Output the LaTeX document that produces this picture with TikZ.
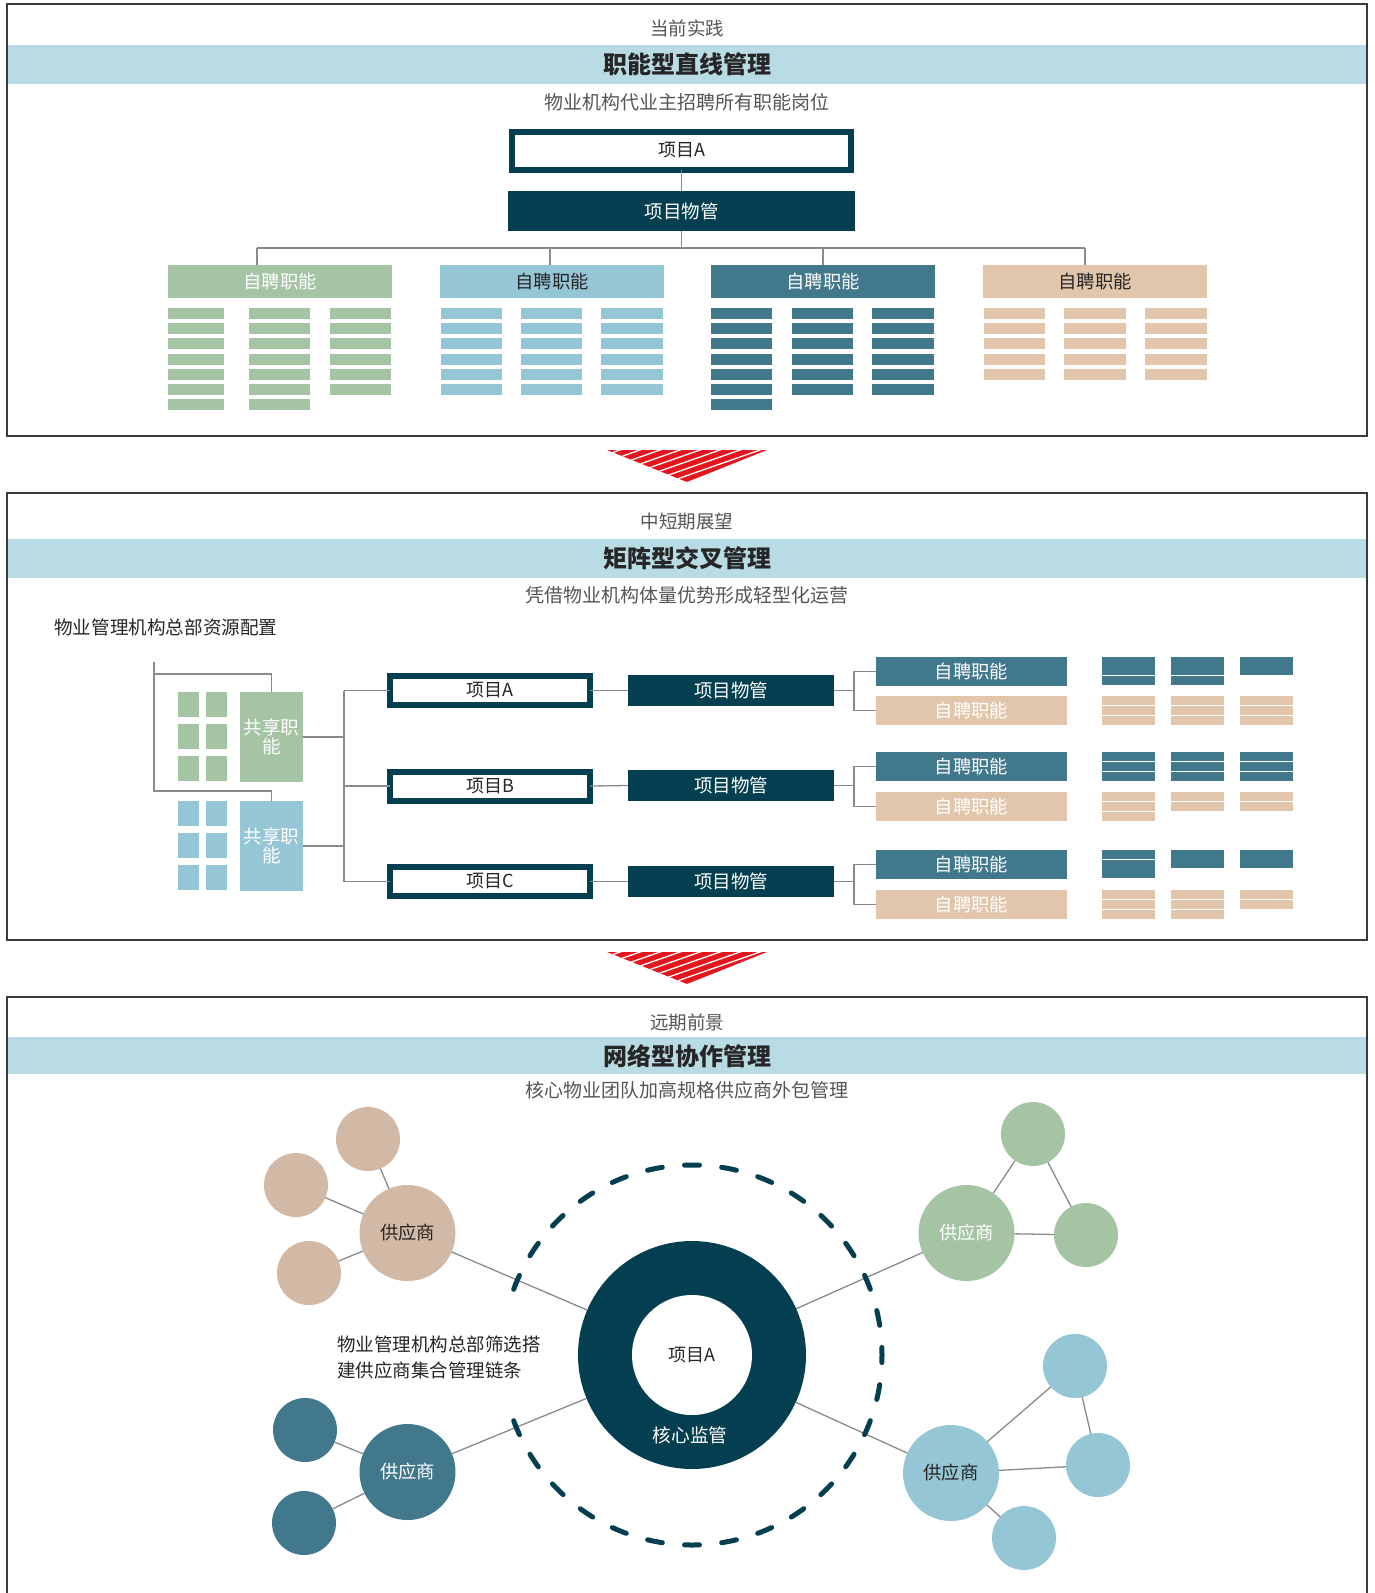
\documentclass[tikz,border=0pt]{standalone}
\usepackage{fontspec}
\setmainfont{Noto Sans CJK SC}
\definecolor{cNavy}{HTML}{033F50}
\definecolor{cTeal}{HTML}{41788C}
\definecolor{cSky}{HTML}{95C6D5}
\definecolor{cSage}{HTML}{A5C4A4}
\definecolor{cSand}{HTML}{E1C6AC}
\definecolor{cClay}{HTML}{D2B9A5}
\definecolor{cBand}{HTML}{B9DCE4}
\definecolor{cLine}{HTML}{8A8A8A}
\definecolor{cInk}{HTML}{262626}
\definecolor{cGray}{HTML}{555555}
\definecolor{cRed}{HTML}{E5151E}
\definecolor{cFrame}{HTML}{3A3A3A}
\newcommand{\fsz}[1]{\fontsize{#1}{#1}\selectfont}
\begin{document}
\begin{tikzpicture}[x=1pt,y=-1pt,
  panel/.style={draw=cFrame,line width=1.5},
  kicker/.style={inner sep=0,text=cGray,font=\fsz{18.5}},
  headline/.style={inner sep=0,text=cInk,font=\fsz{24}\bfseries},
  subline/.style={inner sep=0,text=cGray,font=\fsz{19}},
  conn/.style={draw=cLine,line width=1.3},
  projbox/.style={draw=cNavy,line width=6,fill=white,text=cInk,inner sep=0,outer sep=0,font=\fsz{18}},
  mgrbox/.style={fill=cNavy,text=white,inner sep=0,outer sep=0,font=\fsz{18.5}},
  fnbox/.style={inner sep=0,outer sep=0,font=\fsz{18.3}},
  sharebox/.style={inner sep=0,outer sep=0,minimum width=63,minimum height=90,text=white,align=center,font=\fontsize{18.5}{19}\selectfont},
  bigdot/.style={circle,inner sep=0,outer sep=0,minimum size=96,font=\fsz{18.3}},
  smalldot/.style={circle,inner sep=0,outer sep=0,minimum size=64},
  hatcharrow/.style={white,line width=1.3}]
\useasboundingbox (0,0) rectangle (1375,1593);
\fill[white] (0,0) rectangle (1375,1593);

% ---------------- panel 1: functional line management ----------------
\draw[panel] (7,4) rectangle (1367,436);
\fill[cBand] (7.75,45) rectangle (1366.25,84);
\node[kicker] (k1) at (687,28) {当前实践};
\node[headline] (h1) at (687,64) {职能型直线管理};
\node[subline] (s1) at (687,102) {物业机构代业主招聘所有职能岗位};

\node[projbox,minimum width=339,minimum height=38] (topA) at (681.5,150.5) {项目A};
\node[mgrbox,minimum width=347,minimum height=40] (topM) at (681.5,211) {项目物管};

\node[fnbox,fill=cSage,text=white,minimum width=224,minimum height=33] (f1) at (280,281.5) {自聘职能};
\node[fnbox,fill=cSky,text=cInk,minimum width=224,minimum height=33] (f2) at (552,281.5) {自聘职能};
\node[fnbox,fill=cTeal,text=white,minimum width=224,minimum height=33] (f3) at (823,281.5) {自聘职能};
\node[fnbox,fill=cSand,text=cInk,minimum width=224,minimum height=33] (f4) at (1095,281.5) {自聘职能};

\coordinate (hub) at (681.5,248);
\coordinate (d1) at (257,248);
\coordinate (d2) at (550,248);
\coordinate (d3) at (823,248);
\coordinate (d4) at (1085,248);
\draw[conn] (topA.south) -- (topM.north);
\draw[conn] (topM.south) -- (hub);
\draw[conn] (d1) -- (d4);
\draw[conn] (d1) -- (d1 |- f1.north);
\draw[conn] (d2) -- (d2 |- f2.north);
\draw[conn] (d3) -- (d3 |- f3.north);
\draw[conn] (d4) -- (d4 |- f4.north);

% position bars under each function header
\foreach \x/\w/\n in {168/56/7, 249/61/7, 330/61/6}
  \foreach \i in {1,...,\n} \fill[cSage] (\x,{308+15.17*(\i-1)}) rectangle ++(\w,11);
\foreach \x/\w/\n in {441/61/6, 521/61/6, 601/62/6}
  \foreach \i in {1,...,\n} \fill[cSky] (\x,{308+15.17*(\i-1)}) rectangle ++(\w,11);
\foreach \x/\w/\n in {711/61/7, 792/61/6, 872/62/6}
  \foreach \i in {1,...,\n} \fill[cTeal] (\x,{308+15.17*(\i-1)}) rectangle ++(\w,11);
\foreach \x/\w/\n in {984/61/5, 1064/62/5, 1145/62/5}
  \foreach \i in {1,...,\n} \fill[cSand] (\x,{308+15.17*(\i-1)}) rectangle ++(\w,11);

% hatched arrow 1
\begin{scope}
  \clip (607,450) -- (767,450) -- (687,482) -- cycle;
  \fill[cRed] (600,440) rectangle (775,490);
  \foreach \k in {-2,...,14} \draw[hatcharrow] (600,{450+\k*7}) -- ++(180,-63);
\end{scope}

% ---------------- panel 2: matrix management ----------------
\draw[panel] (7,493) rectangle (1367,940);
\fill[cBand] (7.75,539) rectangle (1366.25,578);
\node[kicker] (k2) at (687,522) {中短期展望};
\node[headline] (h2) at (687,558) {矩阵型交叉管理};
\node[subline] (s2) at (687,595) {凭借物业机构体量优势形成轻型化运营};
\node[inner sep=0,anchor=west,text=cInk,font=\fsz{18.6}] (hq) at (54,627) {物业管理机构总部资源配置};

% shared function pools
\foreach \x in {178,206} \foreach \y in {692,724,756} \fill[cSage] (\x,\y) rectangle ++(21,25);
\foreach \x in {178,206} \foreach \y in {801,833,865} \fill[cSky] (\x,\y) rectangle ++(21,25);
\node[sharebox,fill=cSage] (sh1) at (271.5,737) {共享职\\能};
\node[sharebox,fill=cSky] (sh2) at (271.5,846) {共享职\\能};

\coordinate (bk0) at (154,662);
\coordinate (bk1) at (154,674);
\coordinate (bk2) at (154,791);
\draw[conn] (bk0) -- (bk2) -| (sh2.north);
\draw[conn] (bk1) -| (sh1.north);

% projects
\node[projbox,minimum width=200,minimum height=29] (pa) at (490,690.5) {项目A};
\node[projbox,minimum width=200,minimum height=29] (pb) at (490,786) {项目B};
\node[projbox,minimum width=200,minimum height=29] (pc) at (490,881.5) {项目C};
\node[mgrbox,minimum width=206,minimum height=31] (ma) at (731,690.5) {项目物管};
\node[mgrbox,minimum width=206,minimum height=31] (mb) at (731,785.5) {项目物管};
\node[mgrbox,minimum width=206,minimum height=31] (mc) at (731,881.5) {项目物管};

\coordinate (bus1) at (344,690.5);
\coordinate (bus3) at (344,881.5);
\draw[conn] (bus1) -- (bus3);
\draw[conn] (sh1.east) -- (sh1.east -| bus1);
\draw[conn] (sh2.east) -- (sh2.east -| bus1);
\draw[conn] (bus1) -- (pa.west);
\draw[conn] (pb.west -| bus1) -- (pb.west);
\draw[conn] (bus3) -- (pc.west);
\draw[conn] (pa.east) -- (ma.west);
\draw[conn] (pb.east) -- (mb.west);
\draw[conn] (pc.east) -- (mc.west);

% self-hired functions per project
\node[fnbox,fill=cTeal,text=white,minimum width=191,minimum height=29] (ta) at (971.5,671.5) {自聘职能};
\node[fnbox,fill=cSand,text=white,minimum width=191,minimum height=29] (sa) at (971.5,710.5) {自聘职能};
\node[fnbox,fill=cTeal,text=white,minimum width=191,minimum height=29] (tb) at (971.5,766.5) {自聘职能};
\node[fnbox,fill=cSand,text=white,minimum width=191,minimum height=29] (sb) at (971.5,806.5) {自聘职能};
\node[fnbox,fill=cTeal,text=white,minimum width=191,minimum height=29] (tc) at (971.5,864.5) {自聘职能};
\node[fnbox,fill=cSand,text=white,minimum width=191,minimum height=29] (sc) at (971.5,904.5) {自聘职能};

\coordinate (ja) at (854,690.5);
\coordinate (jb) at (854,785.5);
\coordinate (jc) at (854,881.5);
\draw[conn] (ma.east) -- (ja);
\draw[conn] (ta.west) -| (ja);
\draw[conn] (sa.west) -| (ja);
\draw[conn] (mb.east) -- (jb);
\draw[conn] (tb.west) -| (jb);
\draw[conn] (sb.west) -| (jb);
\draw[conn] (mc.east) -- (jc);
\draw[conn] (tc.west) -| (jc);
\draw[conn] (sc.west) -| (jc);

% stacked position blocks
% row A
\foreach \x in {1102,1171} {
  \fill[cTeal] (\x,657) rectangle ++(53,17.5);
  \fill[cTeal] (\x,675.5) rectangle ++(53,9.5);}
\fill[cTeal] (1240,657) rectangle ++(53,18);
\foreach \x in {1102,1171,1240} {
  \fill[cSand] (\x,696) rectangle ++(53,8.5);
  \fill[cSand] (\x,705.5) rectangle ++(53,9);
  \fill[cSand] (\x,715.5) rectangle ++(53,9.5);}
% row B
\foreach \x in {1102,1171,1240} {
  \fill[cTeal] (\x,752) rectangle ++(53,8.5);
  \fill[cTeal] (\x,761.5) rectangle ++(53,9);
  \fill[cTeal] (\x,771.5) rectangle ++(53,9.5);}
\fill[cSand] (1102,792) rectangle ++(53,8.5);
\fill[cSand] (1102,801.5) rectangle ++(53,9);
\fill[cSand] (1102,811.5) rectangle ++(53,9.5);
\foreach \x in {1171,1240} {
  \fill[cSand] (\x,792) rectangle ++(53,8.5);
  \fill[cSand] (\x,801.5) rectangle ++(53,9.5);}
% row C
\fill[cTeal] (1102,850) rectangle ++(53,8.5);
\fill[cTeal] (1102,859.5) rectangle ++(53,18.5);
\foreach \x in {1171,1240} \fill[cTeal] (\x,850) rectangle ++(53,18);
\foreach \x in {1102,1171} {
  \fill[cSand] (\x,890) rectangle ++(53,8.5);
  \fill[cSand] (\x,899.5) rectangle ++(53,9);
  \fill[cSand] (\x,909.5) rectangle ++(53,9.5);}
\fill[cSand] (1240,890) rectangle ++(53,8.5);
\fill[cSand] (1240,899.5) rectangle ++(53,9.5);

% hatched arrow 2
\begin{scope}
  \clip (607,952) -- (767,952) -- (687,984) -- cycle;
  \fill[cRed] (600,942) rectangle (775,992);
  \foreach \k in {-2,...,14} \draw[hatcharrow] (600,{952+\k*7}) -- ++(180,-63);
\end{scope}

% ---------------- panel 3: network collaboration ----------------
\draw[panel] (7,1600) -- (7,997) -- (1367,997) -- (1367,1600);
\fill[cBand] (7.75,1037) rectangle (1366.25,1074);
\node[kicker] (k3) at (687,1022) {远期前景};
\node[headline] (h3) at (687,1056) {网络型协作管理};
\node[subline] (s3) at (687,1090) {核心物业团队加高规格供应商外包管理};

% core
\node[circle,fill=cNavy,inner sep=0,outer sep=0,minimum size=228] (core) at (692,1355) {};
\node[circle,fill=white,inner sep=0,outer sep=0,minimum size=120,text=cInk,font=\fsz{18}] (coreA) at (692,1355) {项目A};
\node[inner sep=0,text=white,font=\fsz{18.7}] (coreL) at (690,1435) {核心监管};

% supplier clusters
\node[bigdot,fill=cClay,text=cInk] (v1) at (407.5,1233) {供应商};
\node[smalldot,fill=cClay] (v1a) at (368,1139) {};
\node[smalldot,fill=cClay] (v1b) at (296,1185) {};
\node[smalldot,fill=cClay] (v1c) at (309,1273) {};

\node[bigdot,fill=cSage,text=white] (v2) at (966.5,1233) {供应商};
\node[smalldot,fill=cSage] (v2a) at (1033,1134) {};
\node[smalldot,fill=cSage] (v2b) at (1086,1235) {};

\node[bigdot,fill=cTeal,text=white] (v3) at (407.5,1472) {供应商};
\node[smalldot,fill=cTeal] (v3a) at (305,1430) {};
\node[smalldot,fill=cTeal] (v3b) at (304,1523) {};

\node[bigdot,fill=cSky,text=cInk] (v4) at (951,1473) {供应商};
\node[smalldot,fill=cSky] (v4a) at (1075,1366) {};
\node[smalldot,fill=cSky] (v4b) at (1098,1465) {};
\node[smalldot,fill=cSky] (v4c) at (1024,1538) {};

\draw[conn] (v1) -- (core);
\draw[conn] (v2) -- (core);
\draw[conn] (v3) -- (core);
\draw[conn] (v4) -- (core);
\draw[conn] (v1) -- (v1a);
\draw[conn] (v1) -- (v1b);
\draw[conn] (v1) -- (v1c);
\draw[conn] (v2) -- (v2a);
\draw[conn] (v2a) -- (v2b);
\draw[conn] (v2) -- (v2b);
\draw[conn] (v3) -- (v3a);
\draw[conn] (v3) -- (v3b);
\draw[conn] (v4) -- (v4a);
\draw[conn] (v4a) -- (v4b);
\draw[conn] (v4) -- (v4b);
\draw[conn] (v4) -- (v4c);

% supervision boundary: 32 dashes, one centred on each axis point
\draw[cNavy,line width=5,line cap=round,dash pattern=on 15 off 22.31,dash phase=7.5] (692,1355) circle (190);

% caption sits on a white plate over the boundary
\node[fill=white,inner xsep=2,inner ysep=0,minimum height=108,anchor=west,align=left,text=cInk,font=\fontsize{18.5}{26}\selectfont] (note) at (335,1357)
  {物业管理机构总部筛选搭\\建供应商集合管理链条};
\end{tikzpicture}
\end{document}
